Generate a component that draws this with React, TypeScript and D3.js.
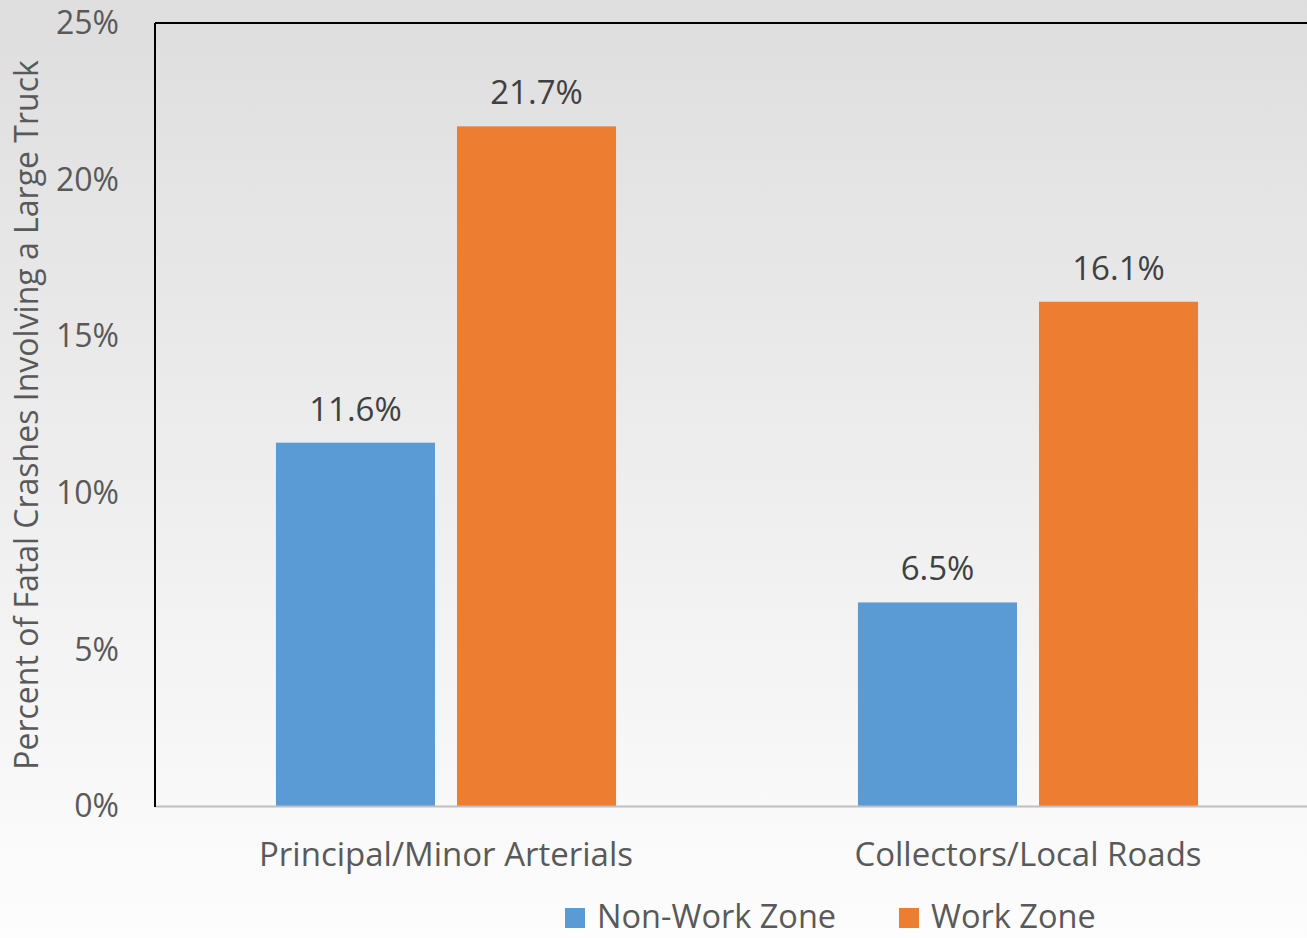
import React from "react";
import * as d3 from "d3";

const categories = ["Principal/Minor Arterials", "Collectors/Local Roads"];
const seriesNames = ["Non-Work Zone", "Work Zone"];
const nonWorkZone = [11.6, 6.5];
const workZone = [21.7, 16.1];
const yTicks = [0, 5, 10, 15, 20, 25];
const colors = ["#5b9bd5", "#ed7d31"];

const W = 1307;
const H = 938;
const FONT = "'Open Sans', sans-serif";
const TEXT = "#595959";

export default function App() {
  const left = 155;
  const right = 1319;
  const top = 23;
  const bottom = 806;
  const x0 = d3.scaleBand<string>().domain(categories).range([left, right]);
  const x1 = d3
    .scaleBand<string>()
    .domain(seriesNames)
    .range([0, x0.bandwidth()])
    .paddingInner(0.1215)
    .paddingOuter(0.668);
  const y = d3.scaleLinear().domain([0, 25]).range([bottom, top]);
  const series = [nonWorkZone, workZone];

  return (
    <svg
      width={W}
      height={H}
      style={{ position: "absolute", left: 0, top: 0 }}
      fontFamily={FONT}
    >
      <defs>
        <linearGradient id="bg" x1="0" y1="0" x2="0" y2="1">
          <stop offset="0" stopColor="#dedede" />
          <stop offset="1" stopColor="#fdfdfd" />
        </linearGradient>
      </defs>
      <rect x={0} y={0} width={W} height={H} fill="url(#bg)" />
      {categories.map((c, ci) =>
        series.map((vals, si) => {
          const bx = (x0(c) as number) + (x1(seriesNames[si]) as number);
          const bw = x1.bandwidth();
          return (
            <g key={c + si}>
              <rect
                x={bx}
                y={y(vals[ci])}
                width={bw}
                height={y(0) - y(vals[ci])}
                fill={colors[si]}
              />
              <text
                x={bx + bw / 2}
                y={y(vals[ci]) - 22}
                textAnchor="middle"
                fontSize={33}
                fill="#404040"
              >
                {vals[ci].toFixed(1)}%
              </text>
            </g>
          );
        })
      )}
      <line x1={left} x2={W} y1={bottom + 0.5} y2={bottom + 0.5} stroke="#bfbfbf" strokeWidth={2} />
      <line x1={left} x2={W} y1={top} y2={top} stroke="#000" strokeWidth={2} />
      <line x1={left} x2={left} y1={top} y2={bottom + 1} stroke="#000" strokeWidth={2} />
      {yTicks.map((t) => (
        <text
          key={t}
          x={119}
          y={y(t)}
          dy="0.35em"
          textAnchor="end"
          fontSize={32}
          fill={TEXT}
        >
          {t}%
        </text>
      ))}
      {categories.map((c) => (
        <text
          key={c}
          x={(x0(c) as number) + x0.bandwidth() / 2}
          y={866}
          textAnchor="middle"
          fontSize={33}
          fill={TEXT}
        >
          {c}
        </text>
      ))}
      <text
        transform={`translate(38,415) rotate(-90)`}
        textAnchor="middle"
        fontSize={32}
        fill={TEXT}
      >
        Percent of Fatal Crashes Involving a Large Truck
      </text>
      {seriesNames.map((s, i) => {
        const lx = i === 0 ? 565 : 899;
        return (
          <g key={s}>
            <rect x={lx} y={908} width={20} height={20} fill={colors[i]} />
            <text x={lx + 32} y={928} fontSize={32.5} fill={TEXT}>
              {s}
            </text>
          </g>
        );
      })}
    </svg>
  );
}
